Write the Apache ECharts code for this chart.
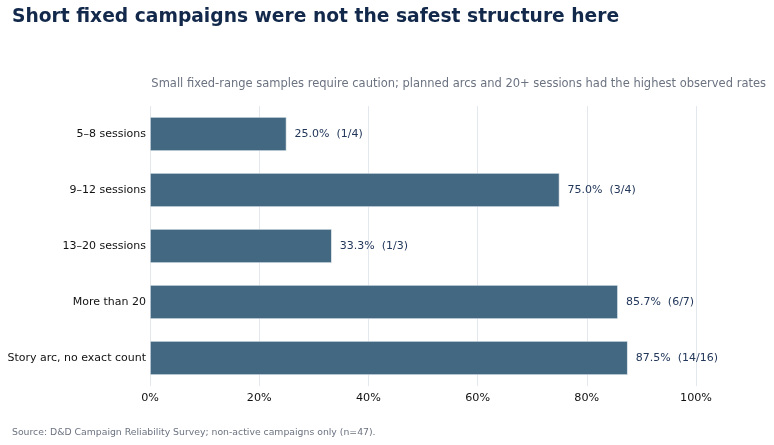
<!DOCTYPE html>
<html><head><meta charset="utf-8">
<script src="https://cdn.jsdelivr.net/npm/echarts@6/dist/echarts.min.js"></script>
<style>html,body{margin:0;padding:0;background:#fff}#c{width:774px;height:445px}</style>
</head><body><div id="c"></div>
<script>
const categories = ["5–8 sessions","9–12 sessions","13–20 sessions","More than 20","Story arc, no exact count"];
const rates = [25.0, 75.0, 33.3, 85.7, 87.5];
const counts = ["1/4","3/4","1/3","6/7","14/16"];
const xTicks = [0,20,40,60,80,100];

const chart = echarts.init(document.getElementById('c'));
const F = 'DejaVu Sans';
chart.setOption({
  animation:false,
  textStyle:{fontFamily:F},
  title:[
    {text:'Short fixed campaigns were not the safest structure here',left:12,top:8,padding:0,
     textStyle:{fontFamily:F,fontSize:18.7,fontWeight:'bold',color:'#13294b'}},
    {text:'Small fixed-range samples require caution; planned arcs and 20+ sessions had the highest observed rates',right:8,top:78,padding:0,
     textStyle:{fontFamily:F,fontSize:11.5,fontWeight:'normal',color:'#6b7280'}},
    {text:'Source: D&D Campaign Reliability Survey; non-active campaigns only (n=47).',left:12,top:428,padding:0,
     textStyle:{fontFamily:F,fontSize:9.3,fontWeight:'normal',color:'#6b7280'}}
  ],
  grid:{left:150,right:78,top:106,bottom:59,containLabel:false,outerBoundsMode:'none'},
  xAxis:{type:'value',min:0,max:100,interval:20,
    axisLine:{show:false},axisTick:{show:false},
    axisLabel:{formatter:v=>v+'%',color:'#111',fontSize:11.2,margin:7},
    splitLine:{lineStyle:{color:'#e3e8ee',width:1}}},
  yAxis:{type:'category',inverse:true,data:categories,
    axisLine:{show:false},axisTick:{show:false},
    axisLabel:{color:'#111',fontSize:11,margin:4}},
  series:[{type:'bar',data:rates,barWidth:34,
    itemStyle:{color:'#426882',borderColor:'#ffffff',borderWidth:0.6},
    label:{show:true,position:'right',distance:8,color:'#22375a',fontSize:11,
      formatter:p=>rates[p.dataIndex].toFixed(1)+'%  ('+counts[p.dataIndex]+')'}}]
});
</script></body></html>
